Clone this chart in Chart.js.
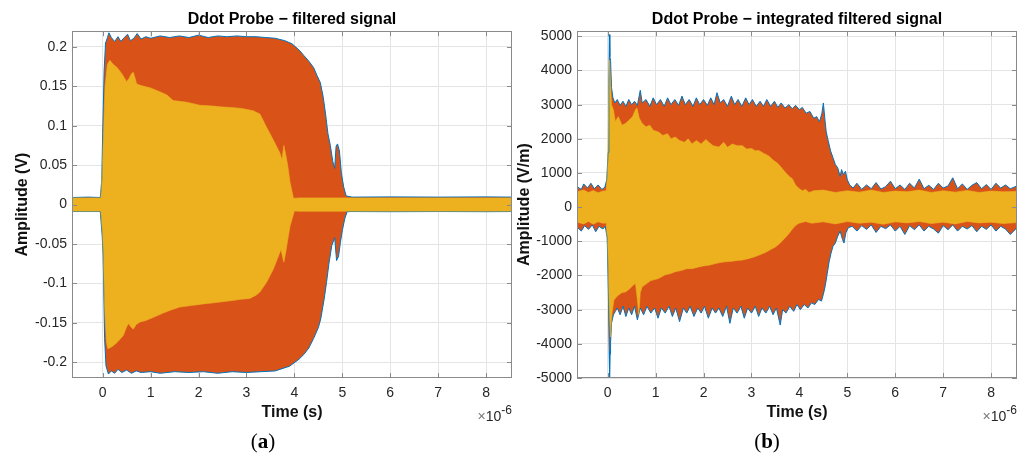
<!DOCTYPE html>
<html>
<head>
<meta charset="utf-8">
<script src="https://cdn.jsdelivr.net/npm/chart.js@4.4.1/dist/chart.umd.min.js"></script>
<style>
  html, body { margin:0; padding:0; background:#fff; }
  #wrap { position:relative; width:1031px; height:457px; overflow:hidden; }
  canvas { position:absolute; top:0; }
  .exp { position:absolute; font-family:"Liberation Sans", Arial, sans-serif; font-size:14px; color:#262626; white-space:nowrap; }
  .exp .x { color:#777; }
  .exp sup { font-size:12px; position:relative; top:-1px; }
  .cap { position:absolute; font-family:"Liberation Serif", "Times New Roman", serif; font-size:21px; color:#000; transform:translateX(-50%); }
</style>
</head>
<body>
<div id="wrap">
  <canvas id="c1" width="515" height="457" style="left:0;width:515px;height:457px"></canvas>
  <canvas id="c2" width="516" height="457" style="left:515px;width:516px;height:457px"></canvas>
  <div class="exp" style="right:519px;top:404px"><span class="x">×</span>10<sup>-6</sup></div>
  <div class="exp" style="right:14px;top:404px"><span class="x">×</span>10<sup>-6</sup></div>
  <div class="cap" style="left:263px;top:429px">(<b>a</b>)</div>
  <div class="cap" style="left:767px;top:429px">(<b>b</b>)</div>
</div>
<script>
// ---------- shared axis data ----------
const timeTicks = [0, 1, 2, 3, 4, 5, 6, 7, 8];           // ×10^-6 s
const timeRange = [-0.64, 8.54];
const timeLabel = 'Time (s)';

// ---------- (a) filtered signal, amplitude (V) ----------
const titleA = 'Ddot Probe \u2212 filtered signal';
const yLabelA = 'Amplitude (V)';
const yTicksA = [-0.2, -0.15, -0.1, -0.05, 0, 0.05, 0.1, 0.15, 0.2];
const yTickLabelsA = ['-0.2', '-0.15', '-0.1', '-0.05', '0', '0.05', '0.1', '0.15', '0.2'];
const yRangeA = [-0.22, 0.22];

// outer (all traces) envelope
const filtOuterUpT = [-0.64,-0.3,-0.05,-0.02,0.0,0.03,0.06,0.10,0.13,0.18,0.25,0.32,0.38,0.45,0.52,0.58,0.65,0.72,0.80,0.9,1.0,1.2,1.4,1.6,1.8,2.0,2.2,2.4,2.6,2.8,3.0,3.2,3.4,3.6,3.8,3.95,4.1,4.2,4.3,4.4,4.47,4.54,4.6,4.65,4.7,4.75,4.8,4.84,4.87,4.9,4.94,4.98,5.03,5.08,5.2,6.0,7.0,8.0,8.54];
const filtOuterUp  = [0.009,0.0095,0.009,0.03,0.09,0.17,0.205,0.212,0.218,0.212,0.207,0.213,0.207,0.212,0.216,0.208,0.211,0.217,0.210,0.213,0.211,0.214,0.212,0.214,0.212,0.215,0.212,0.214,0.213,0.214,0.213,0.213,0.212,0.211,0.208,0.204,0.196,0.189,0.182,0.174,0.164,0.155,0.137,0.115,0.09,0.075,0.055,0.046,0.074,0.077,0.068,0.04,0.022,0.011,0.0095,0.0098,0.0095,0.0098,0.0095];
const filtOuterLoT = [-0.64,-0.05,-0.01,0.01,0.04,0.07,0.12,0.18,0.25,0.32,0.4,0.5,0.6,0.7,0.8,1.0,1.2,1.5,1.8,2.1,2.4,2.7,3.0,3.3,3.6,3.9,4.1,4.2,4.3,4.4,4.5,4.55,4.62,4.67,4.72,4.78,4.84,4.88,4.92,4.96,5.0,5.05,5.1,5.2,6.0,7.0,8.0,8.54];
const filtOuterLo  = [-0.0088,-0.0088,-0.04,-0.065,-0.17,-0.205,-0.215,-0.211,-0.214,-0.209,-0.213,-0.210,-0.214,-0.211,-0.213,-0.212,-0.214,-0.212,-0.213,-0.212,-0.214,-0.212,-0.213,-0.212,-0.211,-0.205,-0.196,-0.190,-0.182,-0.170,-0.156,-0.145,-0.12,-0.099,-0.075,-0.052,-0.042,-0.071,-0.066,-0.048,-0.033,-0.018,-0.009,-0.0088,-0.009,-0.0088,-0.009,-0.0088];
// inner (yellow trace) envelope
const filtInnerUpT = [-0.64,-0.04,0.0,0.05,0.1,0.15,0.22,0.3,0.4,0.5,0.55,0.6,0.64,0.71,0.8,1.0,1.2,1.34,1.47,1.6,1.75,2.03,2.3,2.45,2.73,2.9,3.14,3.28,3.42,3.56,3.70,3.74,3.78,3.82,3.86,3.91,3.98,4.1,8.54];
const filtInnerUp  = [0.0085,0.0085,0.06,0.15,0.178,0.183,0.178,0.174,0.166,0.156,0.160,0.166,0.168,0.153,0.151,0.148,0.143,0.139,0.132,0.131,0.130,0.126,0.125,0.124,0.123,0.122,0.119,0.115,0.098,0.082,0.065,0.057,0.075,0.063,0.05,0.028,0.008,0.0085,0.0085];
const filtInnerLoT = [-0.64,-0.04,0.0,0.04,0.08,0.11,0.2,0.3,0.43,0.5,0.54,0.6,0.64,0.7,0.78,0.9,1.06,1.25,1.41,1.61,1.85,2.1,2.4,2.66,2.9,3.07,3.2,3.28,3.42,3.56,3.65,3.72,3.78,3.82,3.86,3.91,4.0,4.1,8.54];
const filtInnerLo  = [-0.0085,-0.0085,-0.04,-0.13,-0.175,-0.183,-0.180,-0.175,-0.166,-0.155,-0.151,-0.156,-0.158,-0.152,-0.149,-0.147,-0.143,-0.138,-0.134,-0.130,-0.128,-0.126,-0.124,-0.122,-0.120,-0.119,-0.115,-0.111,-0.0985,-0.082,-0.068,-0.057,-0.073,-0.060,-0.045,-0.027,-0.008,-0.0085,-0.0085];

// ---------- (b) integrated filtered signal, amplitude (V/m) ----------
const titleB = 'Ddot Probe \u2212 integrated filtered signal';
const yLabelB = 'Amplitude (V/m)';
const yTicksB = [-5000, -4000, -3000, -2000, -1000, 0, 1000, 2000, 3000, 4000, 5000];
const yTickLabelsB = ['-5000', '-4000', '-3000', '-2000', '-1000', '0', '1000', '2000', '3000', '4000', '5000'];
const yRangeB = [-5000, 5150];

const intOuterUpT = [-0.64,-0.55,-0.5,-0.42,-0.35,-0.28,-0.2,-0.12,-0.06,-0.02,0.01,0.025,0.035,0.045,0.06,0.08,0.11,0.15,0.2,0.26,0.32,0.38,0.44,0.5,0.56,0.62,0.68,0.72,0.8,0.88,0.95,1.02,1.1,1.18,1.25,1.32,1.4,1.48,1.55,1.62,1.7,1.78,1.85,1.92,2.0,2.08,2.15,2.22,2.28,2.35,2.42,2.5,2.58,2.65,2.72,2.8,2.88,2.95,3.02,3.1,3.18,3.25,3.32,3.4,3.48,3.55,3.62,3.7,3.78,3.85,3.92,4.0,4.06,4.14,4.22,4.3,4.36,4.42,4.47,4.5,4.53,4.56,4.6,4.65,4.7,4.75,4.8,4.85,4.88,4.92,4.96,5.0,5.05,5.12,5.2,5.3,5.4,5.5,5.6,5.7,5.8,5.9,6.0,6.1,6.2,6.3,6.4,6.5,6.6,6.7,6.8,6.9,7.0,7.1,7.2,7.3,7.4,7.5,7.6,7.7,7.8,7.9,8.0,8.1,8.2,8.3,8.4,8.54];
const intOuterUp  = [600,520,680,560,700,540,650,520,580,800,1600,3600,5050,4400,4300,3500,3200,3050,3150,2980,3100,2950,3150,3000,3100,2980,3420,3050,3150,2950,3200,3000,3150,2950,3200,3000,3150,2980,3250,3000,3150,2950,3200,3000,3150,2980,3200,3000,3350,3050,3150,2950,3250,3000,3150,2950,3200,3000,3150,2950,3100,2950,3150,2950,3100,2920,3050,2900,3000,2880,2980,2850,2920,2750,2800,2600,2650,2500,2750,3050,2600,2200,1950,1650,1450,1250,1150,900,1100,950,1050,800,650,560,700,520,650,540,720,530,600,760,540,650,520,700,560,820,540,640,520,700,560,620,860,540,680,520,640,720,540,660,520,700,560,650,540,620];
const intOuterLoT = [-0.64,-0.55,-0.48,-0.4,-0.32,-0.25,-0.18,-0.1,-0.05,-0.01,0.015,0.03,0.04,0.05,0.06,0.08,0.12,0.16,0.2,0.26,0.32,0.38,0.44,0.5,0.56,0.62,0.68,0.75,0.82,0.9,0.98,1.05,1.12,1.2,1.28,1.35,1.42,1.5,1.58,1.65,1.72,1.8,1.88,1.95,2.02,2.1,2.18,2.25,2.32,2.4,2.48,2.55,2.62,2.7,2.78,2.85,2.92,3.0,3.08,3.15,3.22,3.3,3.38,3.45,3.52,3.6,3.65,3.72,3.8,3.88,3.95,4.02,4.1,4.18,4.25,4.32,4.4,4.46,4.5,4.54,4.58,4.62,4.66,4.7,4.75,4.8,4.85,4.9,4.93,4.97,5.02,5.1,5.2,5.3,5.4,5.5,5.6,5.7,5.8,5.9,6.0,6.1,6.2,6.3,6.4,6.5,6.6,6.7,6.8,6.9,7.0,7.1,7.2,7.3,7.4,7.5,7.6,7.7,7.8,7.9,8.0,8.1,8.2,8.3,8.4,8.54];
const intOuterLo  = [-580,-700,-540,-650,-520,-720,-560,-640,-560,-900,-2500,-4200,-5000,-4300,-3980,-3400,-3150,-3050,-2950,-3150,-2900,-3200,-2950,-3150,-2900,-3300,-2950,-3150,-2900,-3100,-2950,-3250,-2950,-3100,-2900,-3200,-2950,-3350,-2950,-3100,-2900,-3200,-2950,-3100,-2900,-3250,-2950,-3100,-2950,-3200,-2900,-3400,-2950,-3100,-2900,-3250,-2950,-3100,-2900,-3200,-2950,-3100,-2900,-3150,-2950,-3450,-3000,-3100,-2900,-3050,-2850,-3000,-2850,-2950,-2800,-2850,-2700,-2750,-2550,-2300,-1950,-1600,-1350,-1150,-1050,-850,-700,-950,-1050,-750,-600,-560,-700,-540,-650,-520,-740,-560,-630,-520,-700,-560,-800,-540,-660,-520,-700,-560,-640,-760,-540,-660,-520,-700,-560,-640,-540,-720,-560,-650,-520,-700,-560,-640,-800,-600];
const intInnerUpT = [-0.64,-0.5,-0.4,-0.3,-0.2,-0.1,-0.03,0.0,0.02,0.04,0.055,0.08,0.12,0.16,0.22,0.3,0.37,0.45,0.52,0.58,0.61,0.66,0.72,0.8,0.88,0.95,1.06,1.15,1.25,1.32,1.41,1.5,1.6,1.68,1.76,1.85,1.95,2.05,2.11,2.2,2.32,2.42,2.5,2.6,2.7,2.81,2.9,3.0,3.08,3.15,3.25,3.36,3.45,3.55,3.64,3.72,3.8,3.85,3.92,3.98,4.06,4.13,4.2,4.3,4.5,4.75,5.0,5.25,5.5,5.75,6.0,6.25,6.5,6.75,7.0,7.25,7.5,7.75,8.0,8.25,8.54];
const intInnerUp  = [450,500,430,490,420,470,480,1200,2800,4300,3800,3000,2850,2500,2650,2400,2450,2550,2650,2850,2900,2600,2450,2350,2400,2250,2200,2100,2150,2000,2050,1950,1900,2000,1850,1950,1850,1980,1900,1800,1760,1900,1750,1850,1800,1800,1700,1720,1650,1660,1580,1500,1380,1280,1130,1000,880,840,650,560,480,520,430,480,500,430,480,440,500,430,470,450,500,430,480,440,490,430,470,450,460];
const intInnerLoT = [-0.64,-0.5,-0.4,-0.3,-0.2,-0.1,-0.03,0.0,0.03,0.06,0.09,0.13,0.2,0.3,0.37,0.45,0.52,0.58,0.62,0.65,0.68,0.72,0.8,0.9,1.06,1.2,1.3,1.41,1.55,1.65,1.76,1.9,2.0,2.11,2.25,2.35,2.45,2.6,2.7,2.81,2.95,3.05,3.15,3.3,3.4,3.5,3.6,3.7,3.78,3.85,3.92,3.99,4.13,4.25,4.5,4.75,5.0,5.25,5.5,5.75,6.0,6.25,6.5,6.75,7.0,7.25,7.5,7.75,8.0,8.25,8.54];
const intInnerLo  = [-440,-490,-420,-500,-430,-470,-460,-1200,-2900,-3800,-3100,-2720,-2600,-2500,-2480,-2400,-2300,-2230,-2700,-3150,-2500,-2330,-2250,-2150,-2090,-1980,-1950,-1890,-1850,-1800,-1800,-1750,-1720,-1700,-1650,-1620,-1600,-1580,-1560,-1550,-1500,-1460,-1410,-1320,-1240,-1165,-1050,-900,-775,-650,-540,-470,-420,-470,-430,-490,-420,-470,-440,-500,-430,-460,-420,-480,-440,-490,-420,-460,-440,-480,-450];

// ---------- styling ----------
const C_BLUE = '#0072BD', C_ORANGE = '#D95319', C_YELLOW = '#EDB120';
const FONT = '"Liberation Sans", Arial, Helvetica, sans-serif';

const pts = (t, v) => t.map((x, i) => ({ x: x, y: v[i] }));

const boxPlugin = {
  id: 'matlabBox',
  afterDatasetsDraw(chart) {
    const { ctx, chartArea: a, scales: { x, y } } = chart;
    ctx.save();
    ctx.strokeStyle = '#8a8a8a';
    ctx.lineWidth = 1;
    ctx.beginPath();
    const tl = 5;
    x.ticks.forEach(t => {
      const p = Math.round(x.getPixelForValue(t.value)) + 0.5;
      ctx.moveTo(p, a.bottom); ctx.lineTo(p, a.bottom - tl);
      ctx.moveTo(p, a.top); ctx.lineTo(p, a.top + tl);
    });
    y.ticks.forEach(t => {
      const p = Math.round(y.getPixelForValue(t.value)) + 0.5;
      ctx.moveTo(a.left, p); ctx.lineTo(a.left + tl, p);
      ctx.moveTo(a.right, p); ctx.lineTo(a.right - tl, p);
    });
    ctx.stroke();
    ctx.strokeRect(Math.round(a.left) + 0.5, Math.round(a.top) + 0.5,
                   Math.round(a.right - a.left) - 1, Math.round(a.bottom - a.top) - 1);
    ctx.restore();
  }
};

function makeChart(id, cfg) {
  // upper edge fills down to the matching lower edge (next dataset)
  const edge = (data, color, border, fill) => ({
    data: data, fill: fill, backgroundColor: color,
    borderColor: border || color, borderWidth: border ? 1 : 0.6,
    pointRadius: 0, tension: 0
  });
  return new Chart(document.getElementById(id), {
    type: 'line',
    data: {
      datasets: [
        edge(pts(cfg.inUpT, cfg.inUp), C_YELLOW, null, '+1'),
        edge(pts(cfg.inLoT, cfg.inLo), C_YELLOW, null, false),
        edge(pts(cfg.outUpT, cfg.outUp), C_ORANGE, C_BLUE, '+1'),
        edge(pts(cfg.outLoT, cfg.outLo), C_ORANGE, C_BLUE, false)
      ]
    },
    options: {
      responsive: false, animation: false, devicePixelRatio: 1,
      layout: { padding: { left: 0, right: cfg.padRight, top: 0, bottom: 32 } },
      plugins: {
        legend: { display: false }, tooltip: { enabled: false },
        filler: { drawTime: 'beforeDatasetsDraw' },
        title: { display: true, text: cfg.title, fullSize: false, color: '#000',
                 font: { family: FONT, size: 16, weight: 'bold' }, padding: { top: 10, bottom: 2 } }
      },
      scales: {
        x: {
          type: 'linear', min: timeRange[0], max: timeRange[1],
          afterBuildTicks: s => { s.ticks = timeTicks.map(v => ({ value: v })); },
          afterFit: s => { s.height = 47; },
          ticks: { callback: v => String(v), font: { family: FONT, size: 14 }, color: '#262626',
                   padding: 7, maxRotation: 0, autoSkip: false },
          grid: { color: '#e4e4e4', drawTicks: false },
          border: { display: false },
          title: { display: true, text: timeLabel, color: '#111',
                   font: { family: FONT, size: 16, weight: 'bold' }, padding: { top: 0, bottom: 3 } }
        },
        y: {
          type: 'linear', min: cfg.yRange[0], max: cfg.yRange[1],
          afterBuildTicks: s => { s.ticks = cfg.yTicks.map(v => ({ value: v })); },
          afterFit: s => { s.width = cfg.yWidth; },
          ticks: { callback: v => cfg.yTickLabels[cfg.yTicks.indexOf(v)], font: { family: FONT, size: 14 },
                   color: '#262626', padding: 5, autoSkip: false },
          grid: { color: '#e4e4e4', drawTicks: false },
          border: { display: false },
          title: { display: true, text: cfg.yLabel, color: '#111',
                   font: { family: FONT, size: 16, weight: 'bold' }, padding: { top: cfg.yTitlePad, bottom: 0 } }
        }
      }
    },
    plugins: [boxPlugin]
  });
}

makeChart('c1', {
  title: titleA, yLabel: yLabelA, yTicks: yTicksA, yTickLabels: yTickLabelsA, yRange: yRangeA,
  yWidth: 72, yTitlePad: 13, padRight: 3,
  outUpT: filtOuterUpT, outUp: filtOuterUp, outLoT: filtOuterLoT, outLo: filtOuterLo,
  inUpT: filtInnerUpT, inUp: filtInnerUp, inLoT: filtInnerLoT, inLo: filtInnerLo
});
makeChart('c2', {
  title: titleB, yLabel: yLabelB, yTicks: yTicksB, yTickLabels: yTickLabelsB, yRange: yRangeB,
  yWidth: 62, yTitlePad: 0, padRight: 14,
  outUpT: intOuterUpT, outUp: intOuterUp, outLoT: intOuterLoT, outLo: intOuterLo,
  inUpT: intInnerUpT, inUp: intInnerUp, inLoT: intInnerLoT, inLo: intInnerLo
});
</script>
</body>
</html>
